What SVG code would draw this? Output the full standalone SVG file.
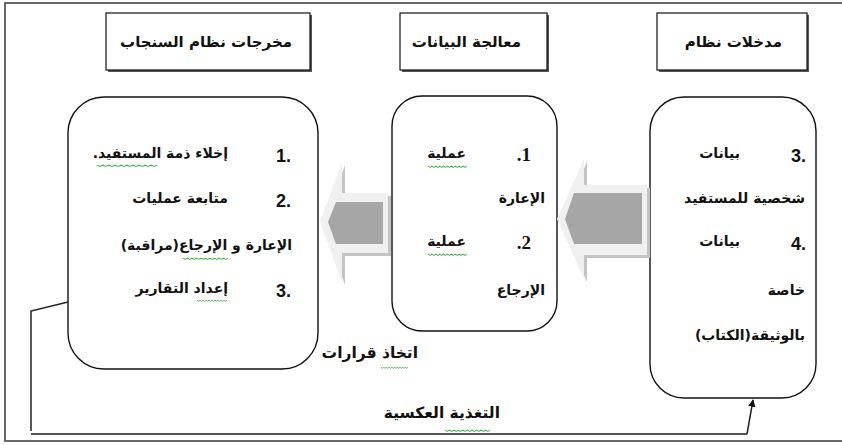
<svg xmlns="http://www.w3.org/2000/svg" width="842" height="445" viewBox="0 0 842 445">
<style>
.frame{fill:none;stroke:#444;stroke-width:1.6}
.hdr{fill:#fff;stroke:#111;stroke-width:1.2}
.shd{fill:#555}
.rbox{fill:#fff;stroke:#111;stroke-width:1.4}
.ar{font-family:"DejaVu Sans",sans-serif;font-weight:bold;font-size:14px;fill:#111;direction:rtl}
.arh{font-family:"DejaVu Sans",sans-serif;font-weight:bold;font-size:15px;fill:#111;direction:rtl}
.arb{font-family:"DejaVu Sans",sans-serif;font-weight:bold;font-size:15.5px;fill:#111;direction:rtl}
.num{font-family:"Liberation Sans",sans-serif;font-weight:bold;font-size:18px;fill:#111;direction:ltr;unicode-bidi:bidi-override}
.nums{font-family:"Liberation Serif",serif;font-weight:bold;font-size:19px;fill:#111;direction:ltr;unicode-bidi:bidi-override}
.wavy{fill:none;stroke:#3cb043;stroke-width:0.8}
.light{fill:#f0f0f0}
.dark{fill:#a6a6a6}
.ash{fill:#c4c4c4}
.conn{fill:none;stroke:#222;stroke-width:1.5}
.fb{fill:none;stroke:#555;stroke-width:2.2}
</style>
<defs>
<marker id="ah" viewBox="0 0 10 10" refX="9" refY="5" markerWidth="5" markerHeight="5" orient="auto" markerUnits="strokeWidth">
<path d="M0,0 L10,5 L0,10 z" fill="#111"/>
</marker>
<path id="wv" d="M0,0 l1.5,1.5 l1.5,-1.5 l1.5,1.5 l1.5,-1.5 l1.5,1.5 l1.5,-1.5 l1.5,1.5 l1.5,-1.5 l1.5,1.5 l1.5,-1.5 l1.5,1.5 l1.5,-1.5 l1.5,1.5 l1.5,-1.5 l1.5,1.5 l1.5,-1.5 l1.5,1.5 l1.5,-1.5 l1.5,1.5 l1.5,-1.5"/>
</defs>
<rect class="frame" x="5" y="3" width="845" height="438"/>

<g id="hdr-outputs">
<rect class="shd" x="108" y="15" width="204" height="57"/>
<rect class="hdr" x="106" y="13" width="204" height="57"/>
<text class="arh" x="292" y="47" text-anchor="start">مخرجات نظام السنجاب</text>
</g>
<g id="hdr-processing">
<rect class="shd" x="402" y="15" width="147" height="57"/>
<rect class="hdr" x="400" y="13" width="147" height="57"/>
<text class="arh" x="521" y="47" text-anchor="start">معالجة البيانات</text>
</g>
<g id="hdr-inputs">
<rect class="shd" x="659" y="15" width="150" height="57"/>
<rect class="hdr" x="657" y="13" width="150" height="57"/>
<text class="arh" x="782" y="47" text-anchor="start">مدخلات نظام</text>
</g>

<g id="box-outputs">
<rect class="rbox" x="68" y="97" width="250" height="272" rx="36" ry="36"/>
<text class="num" x="291" y="162" text-anchor="end">1.</text>
<text class="ar" x="228" y="158" text-anchor="start">إخلاء ذمة المستفيد.</text>
<text class="num" x="291" y="207" text-anchor="end">2.</text>
<text class="ar" x="228" y="203" text-anchor="start">متابعة عمليات</text>
<text class="ar" x="292" y="250" text-anchor="start">الإعارة و الإرجاع(مراقبة)</text>
<text class="num" x="291" y="297" text-anchor="end">3.</text>
<text class="ar" x="228" y="293" text-anchor="start">إعداد التقارير</text>
<use href="#wv" class="wavy" transform="translate(97,165) scale(2,1)"/>
<use href="#wv" class="wavy" transform="translate(183,258) scale(1.5,1)"/>
<use href="#wv" class="wavy" transform="translate(197,300)"/>
</g>

<g id="box-processing">
<rect class="rbox" x="392" y="96" width="165" height="235" rx="30" ry="30"/>
<text class="nums" x="531" y="161" text-anchor="end">.1</text>
<text class="ar" x="466" y="158" text-anchor="start">عملية</text>
<text class="ar" x="545" y="203" text-anchor="start">الإعارة</text>
<text class="nums" x="531" y="249" text-anchor="end">.2</text>
<text class="ar" x="466" y="246" text-anchor="start">عملية</text>
<text class="ar" x="545" y="295" text-anchor="start">الإرجاع</text>
<use href="#wv" class="wavy" transform="translate(428,166) scale(1.3,1)"/>
<use href="#wv" class="wavy" transform="translate(428,254) scale(1.3,1)"/>
</g>

<g id="box-inputs">
<rect class="rbox" x="650" y="97" width="166" height="301" rx="34" ry="34"/>
<text class="num" x="806" y="162" text-anchor="end">3.</text>
<text class="ar" x="740" y="158" text-anchor="start">بيانات</text>
<text class="ar" x="805" y="203" text-anchor="start">شخصية للمستفيد</text>
<text class="num" x="806" y="250" text-anchor="end">4.</text>
<text class="ar" x="740" y="246" text-anchor="start">بيانات</text>
<text class="ar" x="805" y="295" text-anchor="start">خاصة</text>
<text class="ar" x="805" y="340" text-anchor="start">بالوثيقة(الكتاب)</text>
</g>

<g id="connectors">
<g id="arrow-left">
<polygon class="ash" points="323,225 345,165 345,196 391,196 391,256 345,256 345,285"/>
<polygon class="light" points="320,222 342,162 342,193 388,193 388,253 342,253 342,282"/>
<polygon class="dark" points="328,222 336,202 383,202 383,244 336,244"/>
</g>
<g id="arrow-right">
<polygon class="ash" points="560,222 587,162 587,188 650,188 650,258 587,258 587,282"/>
<polygon class="light" points="557,219 584,159 584,185 647,185 647,255 584,255 584,279"/>
<polygon class="dark" points="565,219 574,193 642,193 642,244 574,244"/>
</g>
<polyline class="conn" points="68,302 31,311 31,431"/>
<line class="fb" x1="31" y1="434" x2="747" y2="434"/>
<line class="conn" x1="747" y1="434" x2="753" y2="400" marker-end="url(#ah)"/>
</g>

<g id="labels">
<text class="arb" x="418" y="358" text-anchor="start">اتخاذ قرارات</text>
<use href="#wv" class="wavy" transform="translate(381,367) scale(0.9,1)"/>
<text class="arb" x="500" y="418" text-anchor="start">التغذية العكسية</text>
<use href="#wv" class="wavy" transform="translate(445,430) scale(1.5,1)"/>
</g>
</svg>
